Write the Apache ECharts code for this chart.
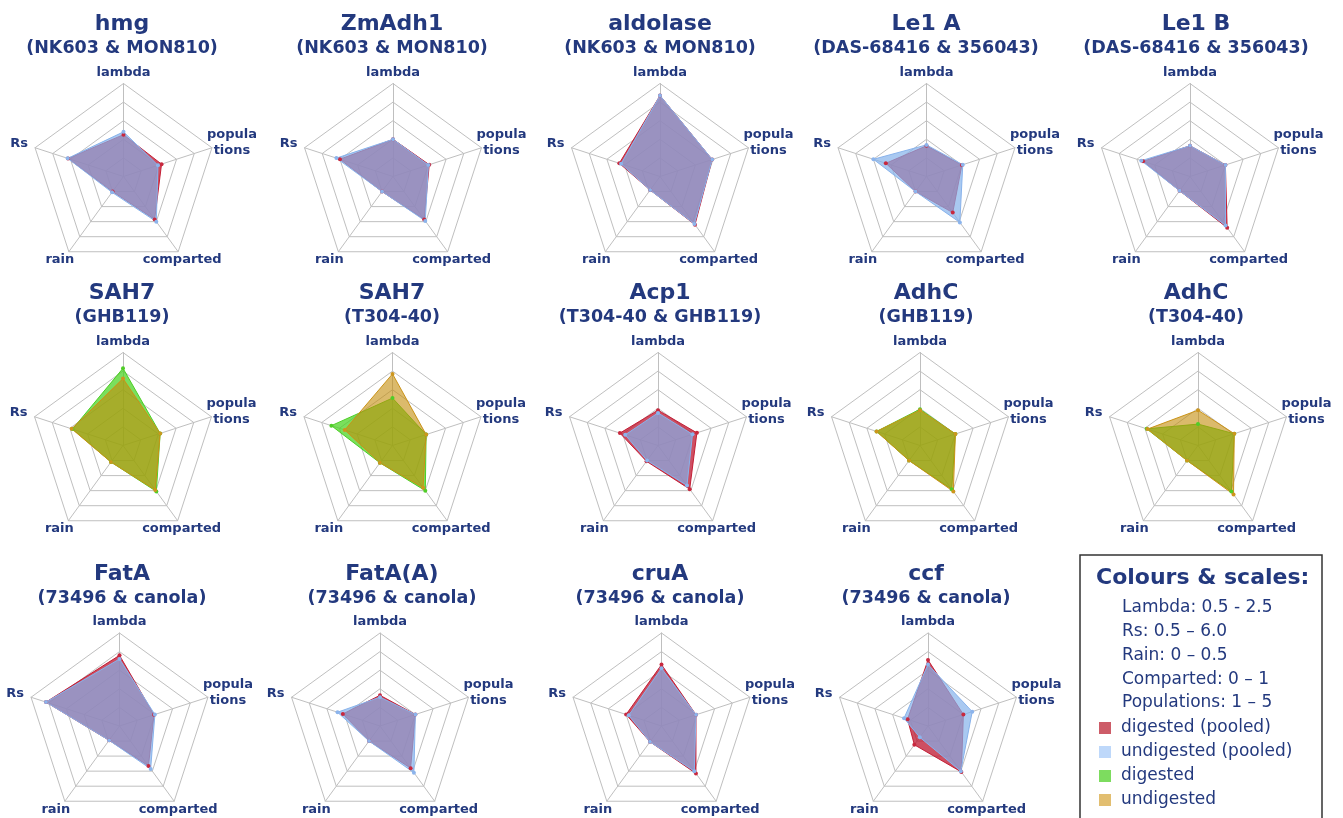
<!DOCTYPE html>
<html>
<head>
<meta charset="utf-8">
<title>radar panels</title>
<script src="https://cdn.jsdelivr.net/npm/echarts/dist/echarts.min.js"></script>
<style>
  html, body { margin: 0; padding: 0; background: #fff; }
  #chart { width: 1343px; height: 818px; }
</style>
</head>
<body>
<div id="chart"></div>
<script>
// indicator order goes counter-clockwise from the top
var indicatorNames = ['lambda', 'Rs', 'rain', 'comparted', 'populations'];
var indicatorLabels = ['lambda', 'Rs', 'rain', 'comparted', 'popula\ntions'];
var scaleMin = [0.5, 0.5, 0, 0, 1];
var scaleMax = [2.5, 6.0, 0.5, 1, 5];
var seriesNames = ['digested (pooled)', 'undigested (pooled)', 'digested', 'undigested'];
var scaleNotes = ['Lambda: 0.5 - 2.5', 'Rs: 0.5 \u2013 6.0', 'Rain: 0 \u2013 0.5', 'Comparted: 0 \u2013 1', 'Populations: 1 \u2013 5'];

var geneNames = ['hmg', 'ZmAdh1', 'aldolase', 'Le1 A', 'Le1 B',
                 'SAH7', 'SAH7', 'Acp1', 'AdhC', 'AdhC',
                 'FatA', 'FatA(A)', 'cruA', 'ccf'];
var eventNames = ['(NK603 & MON810)', '(NK603 & MON810)', '(NK603 & MON810)', '(DAS-68416 & 356043)', '(DAS-68416 & 356043)',
                  '(GHB119)', '(T304-40)', '(T304-40 & GHB119)', '(GHB119)', '(T304-40)',
                  '(73496 & canola)', '(73496 & canola)', '(73496 & canola)', '(73496 & canola)'];
var pooled = [true, true, true, true, true, false, false, true, false, false, true, true, true, true];

// values: lambda, Rs, rain, comparted, populations
var digestedValues = [
  [1.40, 3.95, 0.100, 0.57, 2.72],
  [1.30, 3.80, 0.100, 0.57, 2.64],
  [2.24, 3.03, 0.090, 0.64, 3.36],
  [1.16, 3.03, 0.100, 0.48, 2.60],
  [1.16, 3.42, 0.095, 0.68, 2.60],
  [2.16, 3.64, 0.110, 0.61, 2.68],
  [1.52, 4.30, 0.115, 0.60, 2.52],
  [1.26, 2.87, 0.105, 0.58, 2.76],
  [1.28, 3.20, 0.100, 0.58, 2.60],
  [0.96, 3.69, 0.100, 0.61, 2.64],
  [2.02, 5.07, 0.095, 0.53, 2.56],
  [1.16, 2.81, 0.100, 0.56, 2.60],
  [1.82, 2.70, 0.105, 0.63, 2.56],
  [1.92, 1.77, 0.125, 0.61, 2.60]
];
var undigestedValues = [
  [1.46, 3.97, 0.105, 0.60, 2.56],
  [1.30, 4.02, 0.100, 0.59, 2.60],
  [2.24, 2.92, 0.090, 0.63, 3.36],
  [1.18, 3.80, 0.100, 0.61, 2.64],
  [1.16, 3.53, 0.095, 0.65, 2.60],
  [1.94, 3.69, 0.110, 0.59, 2.68],
  [2.04, 3.47, 0.115, 0.56, 2.52],
  [1.20, 2.54, 0.100, 0.53, 2.56],
  [1.26, 3.20, 0.100, 0.61, 2.60],
  [1.26, 3.64, 0.100, 0.65, 2.64],
  [1.94, 5.07, 0.095, 0.57, 2.60],
  [1.12, 3.14, 0.100, 0.62, 2.60],
  [1.74, 2.54, 0.105, 0.60, 2.56],
  [1.82, 1.99, 0.075, 0.60, 3.00]
];

// layout
var radius = 93;
var rowY = [176.5, 445.5, 726];
var centersX = [[123.5, 393, 660, 926.5, 1190], [123, 392.5, 658, 920, 1198], [119.5, 380, 661.5, 928]];
var titleX = [122, 392, 660, 926, 1196];
var navy = '#23397e';
var font = '"DejaVu Sans", Verdana, sans-serif';

var colours = {
  'digested (pooled)':   { line: 'rgb(200,40,62)',  area: 'rgba(190,20,45,0.75)',  legend: 'rgb(205,92,104)' },
  'undigested (pooled)': { line: 'rgb(140,180,236)', area: 'rgba(130,177,235,0.69)', legend: 'rgb(190,216,250)' },
  'digested':            { line: 'rgb(80,205,40)',  area: 'rgba(70,210,30,0.72)',  legend: 'rgb(125,220,95)' },
  'undigested':          { line: 'rgb(205,150,30)', area: 'rgba(195,140,10,0.6)',  legend: 'rgb(226,190,112)' }
};
// label offsets from each outer vertex
var labelOffset = [
  { dx: 0, dy: -11, align: 'center' },
  { dx: -7, dy: -4, align: 'right' },
  { dx: -9, dy: 8, align: 'center' },
  { dx: 4, dy: 8, align: 'center' },
  { dx: 20, dy: -5, align: 'center' }
];

function item(name, value) {
  var c = colours[name];
  return {
    name: name,
    value: value,
    symbol: 'circle',
    symbolSize: 4,
    itemStyle: { color: c.line },
    lineStyle: { color: c.line, width: 1 },
    areaStyle: { color: c.area, opacity: 1 }
  };
}

var radars = [], series = [], titles = [], graphics = [];
var idx = 0;
rowY.forEach(function (cy, r) {
  centersX[r].forEach(function (cx, c) {
    var i = idx++;
    radars.push({
      center: [cx, cy],
      radius: radius,
      startAngle: 90,
      shape: 'polygon',
      splitNumber: 5,
      indicator: indicatorNames.map(function (n, k) {
        return { name: n, min: scaleMin[k], max: scaleMax[k] };
      }),
      axisName: { show: false },
      axisLine: { lineStyle: { color: '#bfbfbf', width: 1 } },
      splitLine: { lineStyle: { color: '#bfbfbf', width: 1 } },
      splitArea: { show: false }
    });
    var names = pooled[i] ? [seriesNames[0], seriesNames[1]] : [seriesNames[2], seriesNames[3]];
    series.push({
      type: 'radar',
      radarIndex: i,
      silent: true,
      data: [item(names[0], digestedValues[i]), item(names[1], undigestedValues[i])]
    });
    titles.push({
      text: geneNames[i],
      subtext: eventNames[i],
      left: titleX[c],
      top: cy - 165,
      textAlign: 'center',
      padding: 0,
      itemGap: 1,
      textStyle: { fontFamily: font, fontSize: 22, fontWeight: 'bold', color: navy, lineHeight: 26 },
      subtextStyle: { fontFamily: font, fontSize: 17.5, fontWeight: 'bold', color: navy, lineHeight: 20 }
    });
    indicatorLabels.forEach(function (lab, k) {
      var a = (90 + 72 * k) * Math.PI / 180;
      var vx = cx + radius * Math.cos(a);
      var vy = cy - radius * Math.sin(a);
      var o = labelOffset[k];
      graphics.push({
        type: 'text',
        x: vx + o.dx,
        y: vy + o.dy,
        silent: true,
        style: {
          text: lab,
          font: 'bold 13px ' + font,
          fill: navy,
          lineHeight: 16,
          align: o.align,
          verticalAlign: 'middle',
          textAlign: o.align,
          textVerticalAlign: 'middle'
        }
      });
    });
  });
});

// legend box
graphics.push({
  type: 'rect',
  shape: { x: 1080, y: 555, width: 242, height: 300 },
  style: { fill: null, stroke: '#333', lineWidth: 1.5 }
});
graphics.push({
  type: 'text', x: 1096, y: 578,
  style: { text: 'Colours & scales:', font: 'bold 22px ' + font, fill: navy,
           align: 'left', verticalAlign: 'middle', textAlign: 'left', textVerticalAlign: 'middle' }
});
var noteY = [608, 632, 656, 680, 703];
scaleNotes.forEach(function (t, k) {
  graphics.push({
    type: 'text', x: 1122, y: noteY[k],
    style: { text: t, font: '17px ' + font, fill: navy,
             align: 'left', verticalAlign: 'middle', textAlign: 'left', textVerticalAlign: 'middle' }
  });
});

var myChart = echarts.init(document.getElementById('chart'));
var option = {
  animation: false,
  backgroundColor: '#fff',
  title: titles,
  radar: radars,
  series: series,
  legend: {
    orient: 'vertical',
    left: 1099,
    top: 719,
    padding: 0,
    itemWidth: 12,
    itemHeight: 12,
    itemGap: 6,
    icon: 'rect',
    selectedMode: false,
    textStyle: { fontFamily: font, fontSize: 17, color: navy, lineHeight: 18, padding: [0, 0, 0, 5] },
    data: seriesNames.map(function (n) {
      return { name: n, itemStyle: { color: colours[n].legend } };
    })
  },
  graphic: { elements: graphics }
};
myChart.setOption(option);
</script>
</body>
</html>
